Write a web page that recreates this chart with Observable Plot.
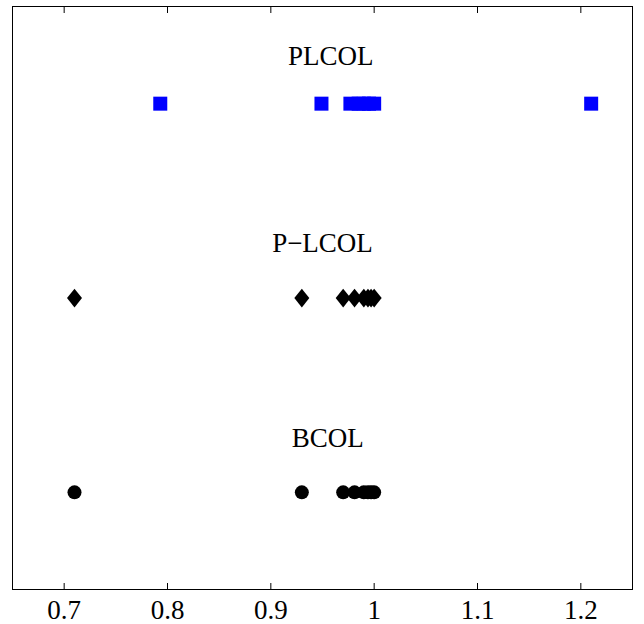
<!DOCTYPE html>
<html>
<head>
<meta charset="utf-8">
<script src="https://cdn.jsdelivr.net/npm/d3@7"></script>
<script src="https://cdn.jsdelivr.net/npm/@observablehq/plot@0.6"></script>
<style>
  html, body { margin: 0; padding: 0; background: #fff; }
  #chart svg { display: block; }
</style>
</head>
<body>
<div id="chart"></div>
<script>
// Data
const plcol = [0.793, 0.949, 0.977, 0.985, 0.99, 0.995, 1.0, 1.21];
const plcolDash = [0.71, 0.93, 0.97, 0.981, 0.99, 0.994, 0.997, 1.0];
const bcol = [0.71, 0.93, 0.97, 0.981, 0.99, 0.994, 0.997, 1.0];
const labelNames = ["PLCOL", "P\u2212LCOL", "BCOL"];
const labelX = [0.958, 0.95, 0.955];
const labelY = [0.756, 1.717, 2.722];
const xTicks = [0.7, 0.8, 0.9, 1.0, 1.1, 1.2];

const rows = plcol.map(v => ({x: v, row: 1}));
const rowsD = plcolDash.map(v => ({x: v, row: 2}));
const rowsB = bcol.map(v => ({x: v, row: 3}));
const labels = labelNames.map((t, i) => ({text: t, x: labelX[i], y: labelY[i]}));

const tallDiamond = {
  draw(context, size) {
    const r = Math.sqrt(size / Math.PI);
    const w = r, h = r * 1.25;
    context.moveTo(0, -h);
    context.lineTo(w, 0);
    context.lineTo(0, h);
    context.lineTo(-w, 0);
    context.closePath();
  }
};

const chart = Plot.plot({
  width: 644,
  height: 624,
  marginLeft: 12,
  marginRight: 12,
  marginTop: 6,
  marginBottom: 35,
  style: {fontFamily: "'Liberation Serif', 'Times New Roman', serif", fontSize: "27px", color: "black", background: "white"},
  x: {domain: [0.65, 1.25]},
  y: {domain: [3.5, 0.5], axis: null},
  marks: [
    Plot.frame({stroke: "black", strokeWidth: 1}),
    Plot.axisX({anchor: "bottom", ticks: xTicks, tickSize: -6, tickPadding: 16, label: null, tickFormat: d => d3.format("~g")(d), fontSize: 27}),
    Plot.axisX({anchor: "top", ticks: xTicks, tickSize: -6, label: null, tickFormat: () => ""}),
    Plot.dot(rows, {x: "x", y: "row", symbol: "square", r: 7.9, fill: "#0000ff", stroke: "none"}),
    Plot.dot(rowsD, {x: "x", y: "row", symbol: tallDiamond, r: 7.5, fill: "black", stroke: "none"}),
    Plot.dot(rowsB, {x: "x", y: "row", symbol: "circle", r: 7, fill: "black", stroke: "none"}),
    Plot.text(labels, {x: "x", y: "y", text: "text", fontSize: 27, lineAnchor: "middle", fill: "black"})
  ]
});
document.getElementById("chart").append(chart);
</script>
</body>
</html>
